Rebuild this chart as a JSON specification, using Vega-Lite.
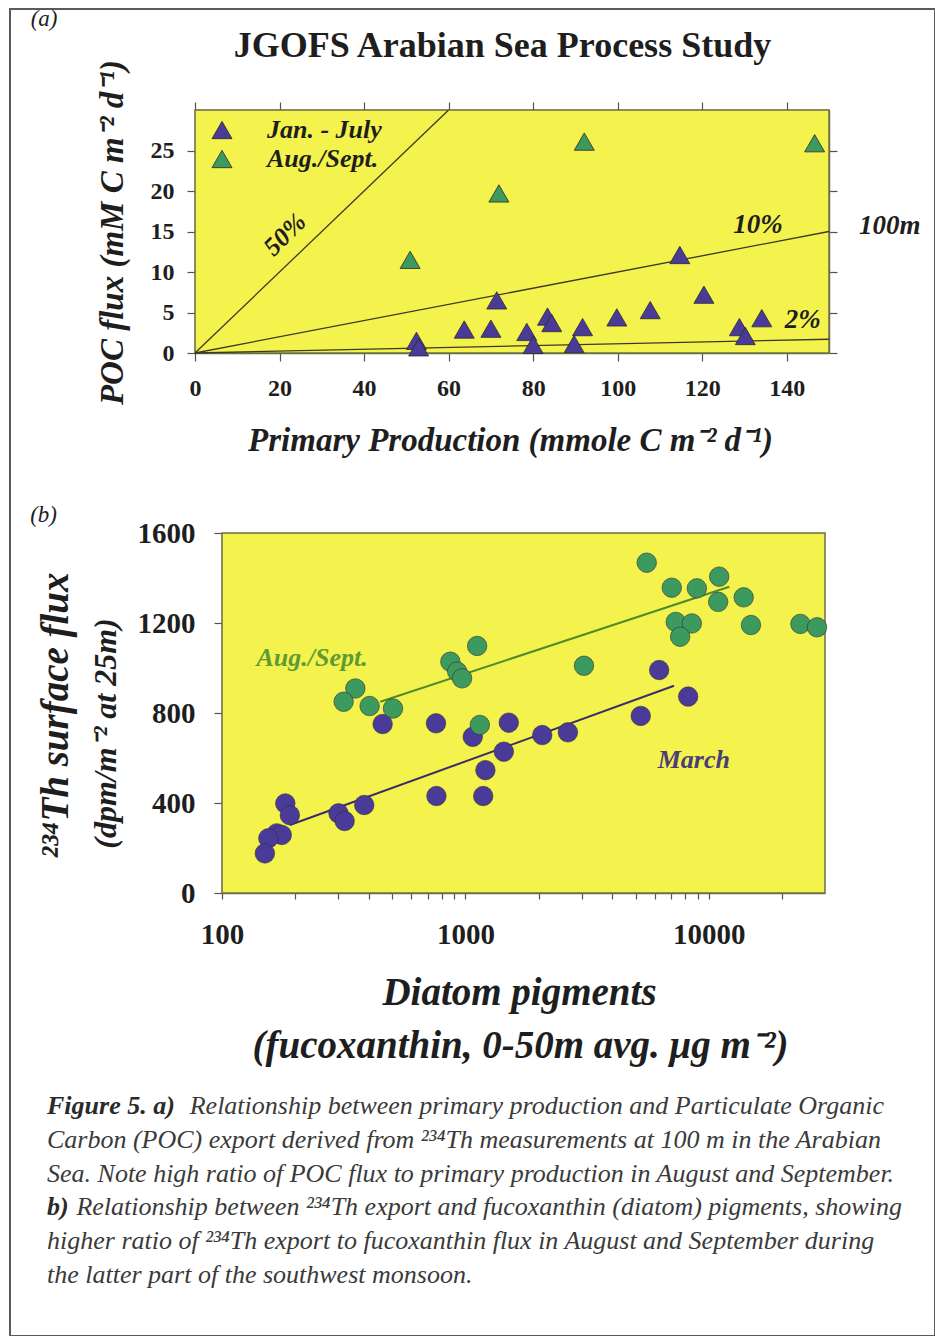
{
  "$schema": "https://vega.github.io/schema/vega-lite/v6.json",
  "width": 925,
  "height": 1327,
  "autosize": {"type": "none"},
  "padding": {"left": 10, "top": 9, "right": 0, "bottom": 0},
  "background": "#ffffff",
  "config": {
    "view": {"stroke": "#5a5a5a", "strokeWidth": 2},
    "font": "Liberation Serif",
    "axis": {"grid": false, "labelFont": "Liberation Serif", "labelFontWeight": "bold", "labelColor": "#1e1e1e", "titleFont": "Liberation Serif", "titleFontWeight": "bold", "titleFontStyle": "italic", "titleColor": "#1e1e1e", "domainColor": "#6e6e46", "domainWidth": 1.5, "tickColor": "#555544", "tickWidth": 1.2},
    "text": {"font": "Liberation Serif"}
  },
  "resolve": {
    "scale": {"x": "independent", "y": "independent", "color": "independent", "stroke": "independent"},
    "axis": {"x": "independent", "y": "independent"},
    "legend": {"color": "independent", "stroke": "independent"}
  },
  "layer": [
    {
      "resolve": {"axis": {"x": "independent", "y": "independent"}},
      "layer": [
        {
          "data": {"values": [{}]},
          "mark": {"type": "rect", "fill": "#F4F24C", "stroke": "#6e6e46", "strokeWidth": 1.5},
          "encoding": {
            "x": {"datum": 0, "type": "quantitative", "scale": {"type": "linear", "domain": [0, 150], "range": [185, 819], "nice": false, "zero": false},
              "axis": {"orient": "bottom", "offset": -983, "values": [0, 20, 40, 60, 80, 100, 120, 140], "tickSize": 8, "labelFontSize": 24, "labelPadding": 15, "labelFlush": false, "labelOverlap": false,
                "title": "Primary Production (mmole C m⁻² d⁻¹)", "titleFontSize": 33, "titleX": 500, "titleY": 87, "titleBaseline": "middle", "titleAlign": "center", "titleAngle": 0}},
            "x2": {"datum": 150},
            "y": {"datum": 0, "type": "quantitative", "scale": {"type": "linear", "domain": [0, 30], "range": [344, 101], "nice": false, "zero": false},
              "axis": {"orient": "left", "offset": -185, "values": [0, 5, 10, 15, 20, 25], "tickSize": 8, "labelFontSize": 24, "labelPadding": 13, "labelFlush": false, "labelOverlap": false,
                "title": "POC flux (mM C m⁻² d⁻¹)", "titleFontSize": 33, "titleX": -83, "titleY": 223, "titleAngle": 270, "titleBaseline": "middle", "titleAlign": "center"}},
            "y2": {"datum": 30}
          }
        },
        {
          "data": {"values": [{}]},
          "mark": {"type": "point", "opacity": 0},
          "encoding": {
            "x": {"datum": 0, "type": "quantitative", "scale": {"type": "linear", "domain": [0, 150], "range": [185, 819], "nice": false, "zero": false},
              "axis": {"orient": "top", "offset": -101, "values": [0, 20, 40, 60, 80, 100, 120, 140], "tickSize": 8, "labels": false,
                "title": "JGOFS Arabian Sea Process Study", "titleFontSize": 36, "titleFontStyle": "normal", "titleFontWeight": "bold", "titleX": 492, "titleY": -65, "titleBaseline": "middle", "titleAlign": "center", "titleAngle": 0}},
            "y": {"datum": 0, "type": "quantitative", "scale": {"type": "linear", "domain": [0, 30], "range": [344, 101], "nice": false, "zero": false},
              "axis": {"orient": "right", "offset": -106, "values": [0, 5, 10, 15, 20, 25], "tickSize": 8, "labels": false, "title": null}}
          }
        },
        {
          "data": {"values": [
            {"ratio": "50%", "pp": 0, "poc": 0}, {"ratio": "50%", "pp": 60, "poc": 30},
            {"ratio": "10%", "pp": 0, "poc": 0}, {"ratio": "10%", "pp": 150, "poc": 15},
            {"ratio": "2%", "pp": 0, "poc": 0}, {"ratio": "2%", "pp": 150, "poc": 1.7}
          ]},
          "mark": {"type": "line", "color": "#3a3a22", "strokeWidth": 1.3},
          "encoding": {
            "x": {"field": "pp", "type": "quantitative", "scale": {"type": "linear", "domain": [0, 150], "range": [185, 819], "nice": false, "zero": false}, "axis": null},
            "y": {"field": "poc", "type": "quantitative", "scale": {"type": "linear", "domain": [0, 30], "range": [344, 101], "nice": false, "zero": false}, "axis": null},
            "detail": {"field": "ratio"}
          }
        },
        {
          "data": {"values": [
            {"pp": 114.7, "poc": 12.1, "period": "Jan. - July"},
            {"pp": 120.4, "poc": 7.2, "period": "Jan. - July"},
            {"pp": 71.4, "poc": 6.5, "period": "Jan. - July"},
            {"pp": 107.7, "poc": 5.3, "period": "Jan. - July"},
            {"pp": 99.8, "poc": 4.4, "period": "Jan. - July"},
            {"pp": 83.4, "poc": 4.5, "period": "Jan. - July"},
            {"pp": 84.4, "poc": 3.7, "period": "Jan. - July"},
            {"pp": 134.1, "poc": 4.3, "period": "Jan. - July"},
            {"pp": 91.7, "poc": 3.2, "period": "Jan. - July"},
            {"pp": 63.7, "poc": 2.9, "period": "Jan. - July"},
            {"pp": 70.0, "poc": 3.0, "period": "Jan. - July"},
            {"pp": 78.5, "poc": 2.6, "period": "Jan. - July"},
            {"pp": 80.0, "poc": 1.0, "period": "Jan. - July"},
            {"pp": 89.7, "poc": 1.1, "period": "Jan. - July"},
            {"pp": 128.8, "poc": 3.2, "period": "Jan. - July"},
            {"pp": 130.2, "poc": 2.1, "period": "Jan. - July"},
            {"pp": 52.4, "poc": 1.5, "period": "Jan. - July"},
            {"pp": 52.9, "poc": 0.7, "period": "Jan. - July"},
            {"pp": 92.1, "poc": 26.1, "period": "Aug./Sept."},
            {"pp": 146.6, "poc": 25.9, "period": "Aug./Sept."},
            {"pp": 71.9, "poc": 19.7, "period": "Aug./Sept."},
            {"pp": 50.9, "poc": 11.5, "period": "Aug./Sept."}
          ]},
          "mark": {"type": "point", "shape": "triangle-up", "filled": true, "size": 400, "opacity": 1, "stroke": "#2a2a2a", "strokeWidth": 0.8},
          "encoding": {
            "x": {"field": "pp", "type": "quantitative", "scale": {"type": "linear", "domain": [0, 150], "range": [185, 819], "nice": false, "zero": false}, "axis": null},
            "y": {"field": "poc", "type": "quantitative", "scale": {"type": "linear", "domain": [0, 30], "range": [344, 101], "nice": false, "zero": false}, "axis": null},
            "color": {"field": "period", "type": "nominal", "scale": {"domain": ["Jan. - July", "Aug./Sept."], "range": ["#4B3B98", "#3D9A5E"]},
              "legend": {"title": null, "orient": "none", "legendX": 199, "legendY": 108, "symbolType": "triangle-up", "symbolSize": 400, "symbolStrokeColor": "#2a2a2a", "symbolStrokeWidth": 0.8, "labelFont": "Liberation Serif", "labelFontSize": 26, "labelFontWeight": "bold", "labelFontStyle": "italic", "labelColor": "#1e1e1e", "labelOffset": 32, "rowPadding": 3}}
          }
        },
        {
          "data": {"values": [
            {"label": "10%", "pp": 133.2, "poc": 15.8},
            {"label": "2%", "pp": 143.8, "poc": 4.1},
            {"label": "100m", "pp": 164.4, "poc": 15.7}
          ]},
          "mark": {"type": "text", "fontSize": 27, "fontWeight": "bold", "fontStyle": "italic", "color": "#1e1e1e", "align": "center", "baseline": "middle"},
          "encoding": {
            "x": {"field": "pp", "type": "quantitative", "scale": {"type": "linear", "domain": [0, 150], "range": [185, 819], "nice": false, "zero": false}, "axis": null},
            "y": {"field": "poc", "type": "quantitative", "scale": {"type": "linear", "domain": [0, 30], "range": [344, 101], "nice": false, "zero": false}, "axis": null},
            "text": {"field": "label"}
          }
        },
        {
          "data": {"values": [{"label": "50%", "pp": 21.3, "poc": 14.6}]},
          "mark": {"type": "text", "fontSize": 26, "fontWeight": "bold", "fontStyle": "italic", "color": "#1e1e1e", "align": "center", "baseline": "middle", "angle": -45},
          "encoding": {
            "x": {"field": "pp", "type": "quantitative", "scale": {"type": "linear", "domain": [0, 150], "range": [185, 819], "nice": false, "zero": false}, "axis": null},
            "y": {"field": "poc", "type": "quantitative", "scale": {"type": "linear", "domain": [0, 30], "range": [344, 101], "nice": false, "zero": false}, "axis": null},
            "text": {"field": "label"}
          }
        },
        {
          "data": {"values": [{"label": "(a)", "pp": -35.7, "poc": 41.2}]},
          "mark": {"type": "text", "fontSize": 23, "fontStyle": "italic", "color": "#1e1e1e", "align": "center", "baseline": "middle"},
          "encoding": {
            "x": {"field": "pp", "type": "quantitative", "scale": {"type": "linear", "domain": [0, 150], "range": [185, 819], "nice": false, "zero": false}, "axis": null},
            "y": {"field": "poc", "type": "quantitative", "scale": {"type": "linear", "domain": [0, 30], "range": [344, 101], "nice": false, "zero": false}, "axis": null},
            "text": {"field": "label"}
          }
        }
      ]
    },
    {
      "resolve": {"axis": {"x": "independent", "y": "independent"}},
      "layer": [
        {
          "data": {"values": [{}]},
          "mark": {"type": "rect", "fill": "#F4F24C", "stroke": "#6e6e46", "strokeWidth": 1.5},
          "encoding": {
            "x": {"datum": 100, "type": "quantitative", "scale": {"type": "log", "domain": [100, 30000], "range": [212, 815], "nice": false},
              "axis": {"orient": "bottom", "offset": -443, "values": [100, 200, 300, 400, 500, 600, 700, 800, 900, 1000, 2000, 3000, 4000, 5000, 6000, 7000, 8000, 9000, 10000, 20000], "tickSize": 6,
                "labelExpr": "datum.value == 100 || datum.value == 1000 || datum.value == 10000 ? format(datum.value, 'd') : ''",
                "labelFontSize": 29, "labelPadding": 21, "labelFlush": false, "labelOverlap": false,
                "title": "Diatom pigments", "titleFontSize": 39, "titleX": 509, "titleY": 99, "titleBaseline": "middle", "titleAlign": "center", "titleAngle": 0}},
            "x2": {"datum": 30000},
            "y": {"datum": 0, "type": "quantitative", "scale": {"type": "linear", "domain": [0, 1600], "range": [884, 524], "nice": false, "zero": false},
              "axis": {"orient": "left", "offset": -212, "values": [0, 400, 800, 1200, 1600], "format": "d", "tickSize": 8, "labelFontSize": 29, "labelPadding": 19, "labelFlush": false, "labelOverlap": false,
                "title": "²³⁴Th surface flux", "titleFontSize": 39, "titleX": -167, "titleY": 706, "titleAngle": 270, "titleBaseline": "middle", "titleAlign": "center"}},
            "y2": {"datum": 1600}
          }
        },
        {
          "data": {"values": [{}]},
          "mark": {"type": "point", "opacity": 0},
          "encoding": {
            "x": {"datum": 100, "type": "quantitative", "scale": {"type": "log", "domain": [100, 30000], "range": [212, 815], "nice": false},
              "axis": {"orient": "bottom", "offset": -443, "domain": false, "ticks": false, "labels": false,
                "title": "(fucoxanthin, 0-50m avg. μg m⁻²)", "titleFontSize": 39, "titleX": 510, "titleY": 152, "titleBaseline": "middle", "titleAlign": "center", "titleAngle": 0}},
            "y": {"datum": 0, "type": "quantitative", "scale": {"type": "linear", "domain": [0, 1600], "range": [884, 524], "nice": false, "zero": false},
              "axis": {"orient": "left", "offset": -212, "domain": false, "ticks": false, "labels": false,
                "title": "(dpm/m⁻² at 25m)", "titleFontSize": 32, "titleX": -117, "titleY": 724, "titleAngle": 270, "titleBaseline": "middle", "titleAlign": "center"}}
          }
        },
        {
          "data": {"values": [
            {"season": "March", "fuco": 190, "th": 302}, {"season": "March", "fuco": 7194, "th": 921},
            {"season": "Aug./Sept.", "fuco": 447, "th": 850}, {"season": "Aug./Sept.", "fuco": 12130, "th": 1361}
          ]},
          "mark": {"type": "line", "strokeWidth": 2},
          "encoding": {
            "x": {"field": "fuco", "type": "quantitative", "scale": {"type": "log", "domain": [100, 30000], "range": [212, 815], "nice": false}, "axis": null},
            "y": {"field": "th", "type": "quantitative", "scale": {"type": "linear", "domain": [0, 1600], "range": [884, 524], "nice": false, "zero": false}, "axis": null},
            "stroke": {"field": "season", "type": "nominal", "scale": {"domain": ["March", "Aug./Sept."], "range": ["#3a2e6a", "#4f8a2c"]}, "legend": null}
          }
        },
        {
          "data": {"values": [
            {"fuco": 457, "th": 751, "season": "March"},
            {"fuco": 757, "th": 754, "season": "March"},
            {"fuco": 1072, "th": 694, "season": "March"},
            {"fuco": 1507, "th": 757, "season": "March"},
            {"fuco": 2068, "th": 702, "season": "March"},
            {"fuco": 2636, "th": 714, "season": "March"},
            {"fuco": 1438, "th": 628, "season": "March"},
            {"fuco": 1208, "th": 546, "season": "March"},
            {"fuco": 760, "th": 431, "season": "March"},
            {"fuco": 1183, "th": 431, "season": "March"},
            {"fuco": 384, "th": 391, "season": "March"},
            {"fuco": 301, "th": 354, "season": "March"},
            {"fuco": 319, "th": 320, "season": "March"},
            {"fuco": 182, "th": 398, "season": "March"},
            {"fuco": 190, "th": 346, "season": "March"},
            {"fuco": 168, "th": 265, "season": "March"},
            {"fuco": 176, "th": 258, "season": "March"},
            {"fuco": 155, "th": 243, "season": "March"},
            {"fuco": 150, "th": 176, "season": "March"},
            {"fuco": 6250, "th": 991, "season": "March"},
            {"fuco": 8222, "th": 873, "season": "March"},
            {"fuco": 5250, "th": 787, "season": "March"},
            {"fuco": 1117, "th": 1098, "season": "Aug./Sept."},
            {"fuco": 867, "th": 1028, "season": "Aug./Sept."},
            {"fuco": 925, "th": 984, "season": "Aug./Sept."},
            {"fuco": 969, "th": 954, "season": "Aug./Sept."},
            {"fuco": 3069, "th": 1010, "season": "Aug./Sept."},
            {"fuco": 353, "th": 909, "season": "Aug./Sept."},
            {"fuco": 316, "th": 850, "season": "Aug./Sept."},
            {"fuco": 404, "th": 831, "season": "Aug./Sept."},
            {"fuco": 504, "th": 820, "season": "Aug./Sept."},
            {"fuco": 1146, "th": 747, "season": "Aug./Sept."},
            {"fuco": 5556, "th": 1468, "season": "Aug./Sept."},
            {"fuco": 7041, "th": 1357, "season": "Aug./Sept."},
            {"fuco": 8927, "th": 1354, "season": "Aug./Sept."},
            {"fuco": 11025, "th": 1406, "season": "Aug./Sept."},
            {"fuco": 10920, "th": 1294, "season": "Aug./Sept."},
            {"fuco": 13900, "th": 1314, "season": "Aug./Sept."},
            {"fuco": 7311, "th": 1205, "season": "Aug./Sept."},
            {"fuco": 8511, "th": 1198, "season": "Aug./Sept."},
            {"fuco": 7621, "th": 1139, "season": "Aug./Sept."},
            {"fuco": 14893, "th": 1191, "season": "Aug./Sept."},
            {"fuco": 23770, "th": 1196, "season": "Aug./Sept."},
            {"fuco": 27820, "th": 1181, "season": "Aug./Sept."}
          ]},
          "mark": {"type": "point", "shape": "circle", "filled": true, "size": 380, "opacity": 1, "stroke": "#2d2d40", "strokeWidth": 0.6},
          "encoding": {
            "x": {"field": "fuco", "type": "quantitative", "scale": {"type": "log", "domain": [100, 30000], "range": [212, 815], "nice": false}, "axis": null},
            "y": {"field": "th", "type": "quantitative", "scale": {"type": "linear", "domain": [0, 1600], "range": [884, 524], "nice": false, "zero": false}, "axis": null},
            "color": {"field": "season", "type": "nominal", "scale": {"domain": ["March", "Aug./Sept."], "range": ["#4B3B98", "#3D9A5E"]}, "legend": null}
          }
        },
        {
          "data": {"values": [{"label": "Aug./Sept.", "fuco": 234.6, "th": 1044}]},
          "mark": {"type": "text", "fontSize": 26, "fontWeight": "bold", "fontStyle": "italic", "color": "#5f9a36", "align": "center", "baseline": "middle"},
          "encoding": {
            "x": {"field": "fuco", "type": "quantitative", "scale": {"type": "log", "domain": [100, 30000], "range": [212, 815], "nice": false}, "axis": null},
            "y": {"field": "th", "type": "quantitative", "scale": {"type": "linear", "domain": [0, 1600], "range": [884, 524], "nice": false, "zero": false}, "axis": null},
            "text": {"field": "label"}
          }
        },
        {
          "data": {"values": [{"label": "March", "fuco": 8670, "th": 591}]},
          "mark": {"type": "text", "fontSize": 26, "fontWeight": "bold", "fontStyle": "italic", "color": "#4a3d78", "align": "center", "baseline": "middle"},
          "encoding": {
            "x": {"field": "fuco", "type": "quantitative", "scale": {"type": "log", "domain": [100, 30000], "range": [212, 815], "nice": false}, "axis": null},
            "y": {"field": "th", "type": "quantitative", "scale": {"type": "linear", "domain": [0, 1600], "range": [884, 524], "nice": false, "zero": false}, "axis": null},
            "text": {"field": "label"}
          }
        },
        {
          "data": {"values": [{"label": "(b)", "fuco": 18.5, "th": 1680}]},
          "mark": {"type": "text", "fontSize": 23, "fontStyle": "italic", "color": "#1e1e1e", "align": "center", "baseline": "middle"},
          "encoding": {
            "x": {"field": "fuco", "type": "quantitative", "scale": {"type": "log", "domain": [100, 30000], "range": [212, 815], "nice": false}, "axis": null},
            "y": {"field": "th", "type": "quantitative", "scale": {"type": "linear", "domain": [0, 1600], "range": [884, 524], "nice": false, "zero": false}, "axis": null},
            "text": {"field": "label"}
          }
        }
      ]
    },
    {
      "layer": [
        {
          "data": {"values": [
            {"line": 1, "pos": 0, "text": "Figure 5. a)"},
            {"line": 4, "pos": 0, "text": "b)"}
          ]},
          "mark": {"type": "text", "align": "left", "baseline": "middle", "fontSize": 26, "fontStyle": "italic", "fontWeight": "bold", "color": "#2a2a2a"},
          "encoding": {
            "x": {"field": "pos", "type": "quantitative", "scale": {"type": "linear", "domain": [0, 1], "range": [37, 902], "nice": false, "zero": false}, "axis": null},
            "y": {"field": "line", "type": "quantitative", "scale": {"type": "linear", "domain": [1, 6], "range": [1097, 1266], "nice": false, "zero": false}, "axis": null},
            "text": {"field": "text"}
          }
        },
        {
          "data": {"values": [
            {"line": 1, "pos": 0.165, "text": "Relationship between primary production and Particulate Organic"},
            {"line": 2, "pos": 0, "text": "Carbon (POC) export derived from ²³⁴Th measurements at 100 m in the Arabian"},
            {"line": 3, "pos": 0, "text": "Sea. Note high ratio of POC flux to primary production in August and September."},
            {"line": 4, "pos": 0.034, "text": "Relationship between ²³⁴Th export and fucoxanthin (diatom) pigments, showing"},
            {"line": 5, "pos": 0, "text": "higher ratio of ²³⁴Th export to fucoxanthin flux in August and September during"},
            {"line": 6, "pos": 0, "text": "the latter part of the southwest monsoon."}
          ]},
          "mark": {"type": "text", "align": "left", "baseline": "middle", "fontSize": 26, "fontStyle": "italic", "color": "#3a3a3a"},
          "encoding": {
            "x": {"field": "pos", "type": "quantitative", "scale": {"type": "linear", "domain": [0, 1], "range": [37, 902], "nice": false, "zero": false}, "axis": null},
            "y": {"field": "line", "type": "quantitative", "scale": {"type": "linear", "domain": [1, 6], "range": [1097, 1266], "nice": false, "zero": false}, "axis": null},
            "text": {"field": "text"}
          }
        }
      ]
    }
  ]
}
